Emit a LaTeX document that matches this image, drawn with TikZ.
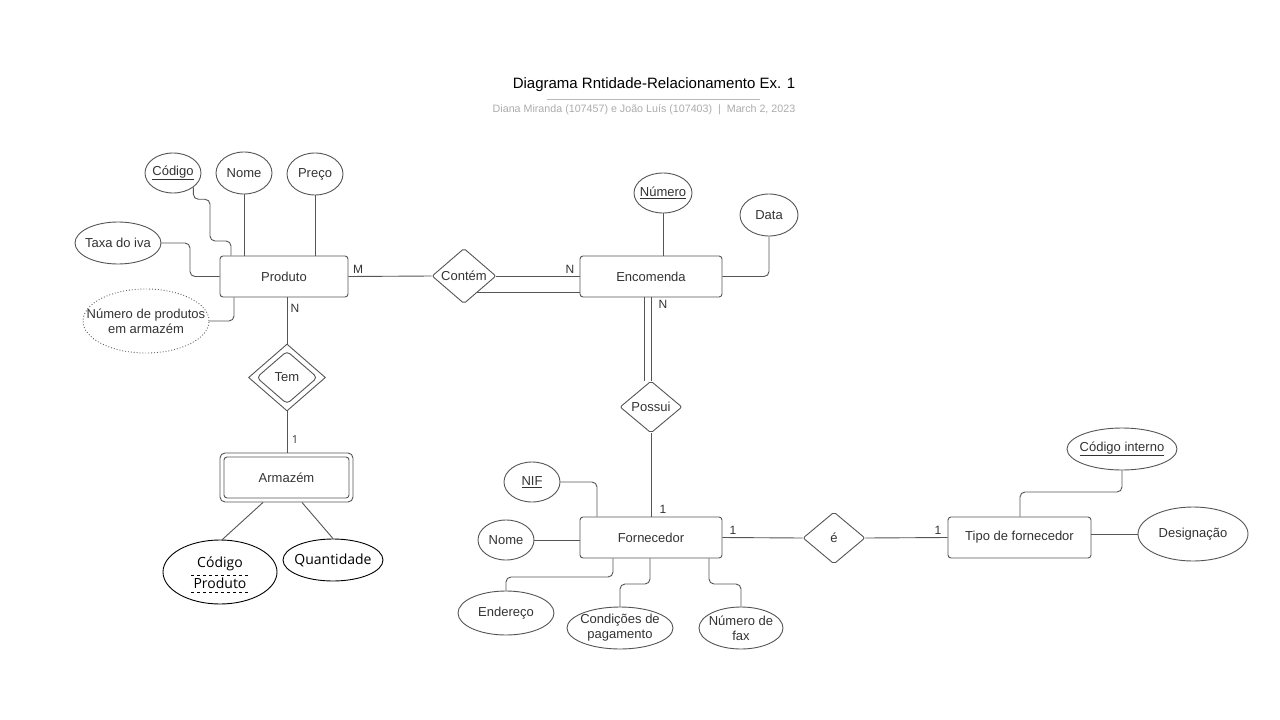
\documentclass[tikz,border=0pt]{standalone}
\usepackage{fontspec}
\setmainfont{Liberation Sans}
\newfontfamily\segoe{Open Sans}
\usetikzlibrary{shapes.geometric}
\definecolor{ln}{HTML}{555555}
\definecolor{tx}{HTML}{333333}
\begin{document}
\begin{tikzpicture}[x=1pt,y=-1pt,
  every node/.style={text=tx, font=\fontsize{13}{15}\selectfont},
  ent/.style={draw=ln, line width=0.9pt, rounded corners=3pt, minimum height=41pt, inner sep=0pt},
  attr/.style={draw=ln, line width=0.9pt, ellipse, inner sep=0pt},
  lab/.style={align=center, inner sep=0pt},
  rel/.style={draw=ln, line width=0.9pt, diamond, inner sep=0pt, rounded corners=2pt},
  conn/.style={draw=ln, line width=0.9pt, rounded corners=5pt},
  card/.style={font=\fontsize{12}{14}\selectfont, inner sep=0pt},
  seg/.style={font=\segoe\fontsize{14}{16}\selectfont, text=black, inner sep=0pt}]
\fill[white] (0,0) rectangle (1280,720);
\useasboundingbox (0,0) rectangle (1280,720);

% title
\node[font=\fontsize{15}{18}\selectfont, text=black] (title) at (654,85) {Diagrama Rntidade-Relacionamento Ex. 1};
\draw[gray!55, line width=1pt] (547,99) -- (760,99);
\node[font=\fontsize{10.7}{12}\selectfont, text=gray!65] (sub) at (644,110) {Diana Miranda (107457) e João Luís (107403) \ | \ March 2, 2023};

% entities
\node[ent, minimum width=128pt] (produto) at (284,276.5) {Produto};
\node[ent, minimum width=142pt] (encomenda) at (651,276.5) {Encomenda};
\node[ent, minimum width=142pt] (fornecedor) at (651,537.5) {Fornecedor};
\node[ent, minimum width=143pt] (tipo) at (1019.5,537.5) {Tipo de fornecedor};
\node[ent, minimum width=133pt, minimum height=49pt, rounded corners=5pt] (armazem) at (286.5,477.5) {};
\node[ent, minimum width=125pt, minimum height=41pt] (armazemin) at (286.5,477.5) {Armazém};

% relationships
\node[rel, minimum width=64pt, minimum height=52pt] (contem) at (464,276) {Contém};
\node[rel, minimum width=62pt, minimum height=52pt] (possui) at (651,407) {Possui};
\node[rel, minimum width=62pt, minimum height=52pt] (e) at (834,538) {é};
\node[draw=ln, line width=0.9pt, diamond, inner sep=0pt, minimum width=77pt, minimum height=67pt] (tem) at (287,377.5) {};
\node[rel, minimum width=61pt, minimum height=53pt, rounded corners=4pt] (temin) at (287,377.5) {Tem};

% attributes of Produto
\node[attr, minimum width=56pt, minimum height=40pt, label={[lab]center:\underline{Código}}] (codigo) at (173,173) {};
\node[attr, minimum width=56pt, minimum height=42pt, label={[lab]center:Nome}] (nomeP) at (244,173) {};
\node[attr, minimum width=56pt, minimum height=42pt, label={[lab]center:Preço}] (preco) at (315,174) {};
\node[attr, minimum width=86pt, minimum height=42pt, label={[lab]center:Taxa do iva}] (taxa) at (118,243) {};
\node[attr, draw=gray!75!black, dotted, minimum width=126pt, minimum height=64pt, label={[lab]center:Número de produtos\\em armazém}] (numprod) at (146,321) {};

% attributes of Encomenda
\node[attr, minimum width=58pt, minimum height=40pt, label={[lab]center:\underline{Número}}] (numero) at (663,193) {};
\node[attr, minimum width=58pt, minimum height=42pt, label={[lab]center:Data}] (data) at (769,215) {};

% attributes of Fornecedor
\node[attr, minimum width=56pt, minimum height=40pt, label={[lab]center:\underline{NIF}}] (nif) at (532,482) {};
\node[attr, minimum width=56pt, minimum height=40pt, label={[lab]center:Nome}] (nomeF) at (506,540) {};
\node[attr, minimum width=96pt, minimum height=44pt, label={[lab]center:Endereço}] (endereco) at (506,613) {};
\node[attr, minimum width=106pt, minimum height=42pt, label={[lab]center:Condições de\\pagamento}] (cond) at (620,628) {};
\node[attr, minimum width=84pt, minimum height=42pt, label={[lab]center:Número de\\fax}] (fax) at (741,628) {};

% attributes of Tipo de fornecedor
\node[attr, minimum width=110pt, minimum height=42pt, label={[lab]center:\underline{Código interno}}] (codint) at (1122,449) {};
\node[attr, minimum width=110pt, minimum height=54pt, label={[lab]center:Designação}] (desig) at (1193,534) {};

% attributes of Armazem
\node[draw=black, line width=0.9pt, ellipse, inner sep=0pt, minimum width=114pt, minimum height=64pt] (codprod) at (220,572) {};
\node[seg] (cp1) at (220,564) {Código};
\node[seg] (cp2) at (220,583) {Produto};
\draw[dashed, black, line width=0.7pt] (191,575) -- (250,575);
\draw[dashed, black, line width=0.7pt] (191,592) -- (250,592);
\node[draw=black, line width=0.9pt, ellipse, inner sep=0pt, minimum width=100pt, minimum height=42pt, label={[seg]center:Quantidade}] (quant) at (333,560) {};

% connectors Produto
\draw[conn] (codigo.-35) -- ++(0,12) -| (210,241) -| (231,0 |- produto.north);
\draw[conn] (nomeP.south) -- (nomeP.south |- produto.north);
\draw[conn] (preco.south) -- (preco.south |- produto.north);
\draw[conn] (taxa.east) -| (190,0 |- produto.west) -- (produto.west);
\draw[conn] (numprod.east) -| (234,0 |- produto.south);

% Produto - Contem - Encomenda
\draw[conn] (produto.east) -- (contem.west);
\draw[conn] (contem.east) -- (encomenda.west |- contem.east);
\draw[conn] (contem.-52) -- (encomenda.west |- contem.-52);
\node[card] (lm) at (358,269) {M};
\node[card] (ln1) at (570,269) {N};

% Encomenda attributes
\draw[conn] (numero.south) -- (numero.south |- encomenda.north);
\draw[conn] (data.south) |- (encomenda.east);

% Encomenda - Possui - Fornecedor
\draw[conn] (encomenda.south) -- (possui.north);
\draw[conn] ([xshift=-7pt]encomenda.south) -- ([xshift=-7pt]possui.north);
\draw[conn] (possui.south) -- (fornecedor.north);
\node[card] (ln2) at (663,304) {N};
\node[card] (l1a) at (663,509) {1};

% Produto - Tem - Armazem
\draw[conn] (tem.north |- produto.south) -- (tem.north);
\draw[conn] (tem.south) -- (tem.south |- armazem.north);
\node[card] (ln3) at (295,308) {N};
\node[card, font=\segoe\fontsize{11}{13}\selectfont] (l1t) at (295,440) {1};
\draw[conn] (263,0 |- armazem.south) -- (codprod.86);
\draw[conn] (302,0 |- armazem.south) -- (quant.north);

% Fornecedor attributes
\draw[conn] (nif.east) -| (597,0 |- fornecedor.north);
\draw[conn] (nomeF.east) -- (fornecedor.west |- nomeF.east);
\draw[conn] (endereco.north) |- (613,577) -- (613,0 |- fornecedor.south);
\draw[conn] (cond.north) |- (650,584) -- (650,0 |- fornecedor.south);
\draw[conn] (fax.north) |- (709,584) -- (709,0 |- fornecedor.south);

% Fornecedor - e - Tipo
\draw[conn] (fornecedor.east) -- (e.west);
\draw[conn] (e.east) -- (tipo.west);
\node[card] (l1b) at (733,530) {1};
\node[card] (l1c) at (938,530) {1};

% Tipo attributes
\draw[conn] (codint.south) |- (1020,492) -- (1020,0 |- tipo.north);
\draw[conn] (desig.west) -- (tipo.east |- desig.west);
\end{tikzpicture}
\end{document}
